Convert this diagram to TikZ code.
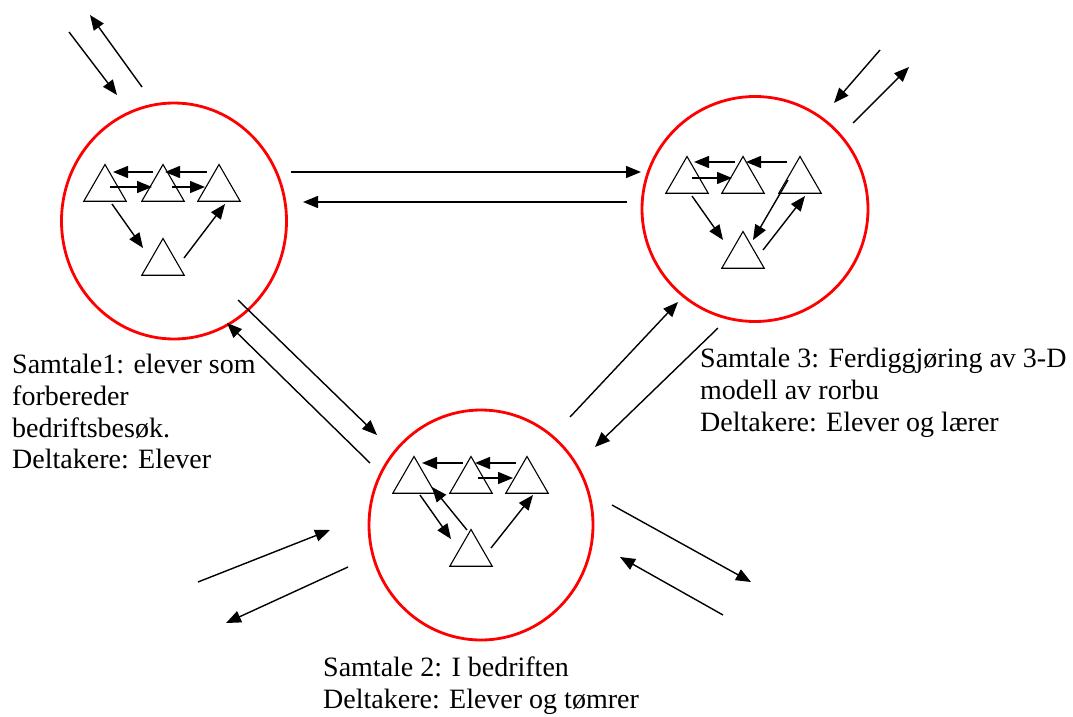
\documentclass[tikz,border=0pt]{standalone}
\usepackage{fontspec}
\setmainfont{Liberation Serif}
\usetikzlibrary{positioning,shapes.geometric,arrows.meta}

\begin{document}
\begin{tikzpicture}[x=1pt,y=-1pt,node distance=57pt,
	arr/.style={-{Triangle[length=15pt,width=12pt]},line width=1.4pt},
	txt/.style={anchor=north west,align=left,inner sep=0pt,font=\fontsize{28pt}{31.7pt}\selectfont}]
	\tikzstyle{samtale}=[ellipse,draw=red,line width=2.8pt,inner sep=0pt]
	\tikzstyle{tri}=[regular polygon,regular polygon sides=3,draw,line width=1.1pt,minimum size=49pt,inner sep=0pt,on grid]
	\useasboundingbox (0,0) rectangle (1073,717);

	% the three conversations
	\node[samtale, minimum width=225pt, minimum height=236pt] (s1) at (174,221) {};
	\node[samtale, minimum width=226pt, minimum height=225pt] (s2) at (755,209) {};
	\node[samtale, minimum width=224pt, minimum height=230pt] (s3) at (481,525) {};

	% Samtale 1
	\node[tri] (a1) at (105,189) {};
	\node[tri, right=58pt of a1] (a2) {};
	\node[tri, right=56pt of a2] (a3) {};
	\node[tri, below=74pt of a2] (a4) {};
		\draw[arr] ([shift={(-12,-17)}]a3.center) -- ([shift={(2,-17)}]a2.center);
		\draw[arr] ([shift={(-10,-17)}]a2.center) -- ([shift={(8,-17)}]a1.center);
		\draw[arr] ([shift={(5,-2)}]a1.center) -- ([shift={(-11,-2)}]a2.center);
		\draw[arr] ([shift={(9,-2)}]a2.center) -- ([shift={(-14,-2)}]a3.center);
		\draw[arr] ([shift={(7,15)}]a1.center) -- ([shift={(-20,-15)}]a4.center);
		\draw[arr] ([shift={(21,-5)}]a4.center) -- ([shift={(6,15)}]a3.center);

	% Samtale 3
	\node[tri] (b1) at (687,181) {};
	\node[tri, right=56pt of b1] (b2) {};
	\node[tri, right=57pt of b2] (b3) {};
	\node[tri, below=75pt of b2] (b4) {};
		\draw[arr] ([shift={(-8,-19)}]b2.center) -- ([shift={(7,-19)}]b1.center);
		\draw[arr] ([shift={(-13,-19)}]b3.center) -- ([shift={(3,-19)}]b2.center);
		\draw[arr] ([shift={(5,-3)}]b1.center) -- ([shift={(-11,-3)}]b2.center);
		\draw[arr] ([shift={(5,15)}]b1.center) -- ([shift={(-20,-16)}]b4.center);
		\draw[arr] ([shift={(-12,-1)}]b3.center) -- ([shift={(10,-16)}]b4.center);
		\draw[arr] ([shift={(20,-6)}]b4.center) -- ([shift={(5,15)}]b3.center);

	% Samtale 2
	\node[tri] (c1) at (414,481) {};
	\node[tri, right=57pt of c1] (c2) {};
	\node[tri, right=56pt of c2] (c3) {};
	\node[tri, below=73pt of c2] (c4) {};
		\draw[arr] ([shift={(-8,-18)}]c2.center) -- ([shift={(8,-18)}]c1.center);
		\draw[arr] ([shift={(-11,-18)}]c3.center) -- ([shift={(4,-18)}]c2.center);
		\draw[arr] ([shift={(7,-3)}]c2.center) -- ([shift={(-14,-3)}]c3.center);
		\draw[arr] ([shift={(6,14)}]c1.center) -- ([shift={(-20,-15)}]c4.center);
		\draw[arr] ([shift={(-4,-24)}]c4.center) -- ([shift={(18,6)}]c1.center);
		\draw[arr] ([shift={(20,-6)}]c4.center) -- ([shift={(6,14)}]c3.center);

	% between the conversations
	\draw[arr] ([shift={(117,-49)}]s1.center) -- ([shift={(-114,-37)}]s2.center);
	\draw[arr] ([shift={(-128,-7)}]s2.center) -- ([shift={(129,-19)}]s1.center);
	\draw[arr] ([shift={(64,79)}]s1.center) -- ([shift={(-104,-90)}]s3.center);
	\draw[arr] ([shift={(-111,-62)}]s3.center) -- ([shift={(53,102)}]s1.center);
	\draw[arr] ([shift={(89,-108)}]s3.center) -- ([shift={(-77,93)}]s2.center);
	\draw[arr] ([shift={(-37,119)}]s2.center) -- ([shift={(114,-78)}]s3.center);

	% in and out of each conversation
	\draw[arr] ([shift={(-105,-189)}]s1.center) -- ([shift={(-57,-126)}]s1.center);
	\draw[arr] ([shift={(-32,-134)}]s1.center) -- ([shift={(-84,-206)}]s1.center);
	\draw[arr] ([shift={(125,-159)}]s2.center) -- ([shift={(79,-106)}]s2.center);
	\draw[arr] ([shift={(98,-86)}]s2.center) -- ([shift={(154,-142)}]s2.center);
	\draw[arr] ([shift={(-283,57)}]s3.center) -- ([shift={(-151,5)}]s3.center);
	\draw[arr] ([shift={(-133,42)}]s3.center) -- ([shift={(-255,98)}]s3.center);
	\draw[arr] ([shift={(131,-20)}]s3.center) -- ([shift={(270,57)}]s3.center);
	\draw[arr] ([shift={(242,90)}]s3.center) -- ([shift={(139,32)}]s3.center);

	% labels
	\node[txt] (t1) at (12,354) {Samtale1: elever som\\forbereder\\bedriftsbesøk.\\Deltakere: Elever};
	\node[txt] (t3) at (700,348) {Samtale 3: Ferdiggjøring av 3-D\\modell av rorbu\\Deltakere: Elever og lærer};
	\node[txt] (t2) at (323,657) {Samtale 2: I bedriften\\Deltakere: Elever og tømrer};
\end{tikzpicture}
\end{document}
